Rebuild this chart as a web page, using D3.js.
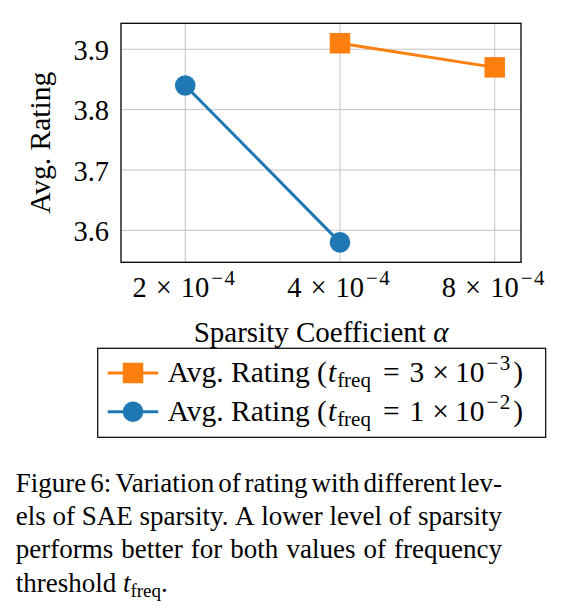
<!DOCTYPE html>
<html><head><meta charset="utf-8">
<script src="https://cdn.jsdelivr.net/npm/d3@7"></script>
<style>html,body{margin:0;padding:0;background:#fff;} svg{display:block;}</style>
</head><body>
<svg id="chart" width="570" height="616"></svg>
<script>
// ---- data ----
const alphaTicks = [2e-4, 4e-4, 8e-4];
const alphaTickMantissas = ["2", "4", "8"];
const alphaTickExponent = "4";
const ratingTicks = [3.6, 3.7, 3.8, 3.9];
const orangeAlpha = [4e-4, 8e-4];
const orangeRating = [3.91, 3.87];
const blueAlpha = [2e-4, 4e-4];
const blueRating = [3.84, 3.58];
const legendMantissas = ["3", "1"];
const legendExponents = ["3", "2"];
const captionLines = [
  "Figure 6: Variation of rating with different lev-",
  "els of SAE sparsity. A lower level of sparsity",
  "performs better for both values of frequency"
];

const ORANGE = "#ff7f0e", BLUE = "#1f77b4";
const FONT = "'Liberation Serif', serif";

function sciLabel(t, mant, exp, fs) {
  t.append("tspan").text(mant);
  t.append("tspan").attr("dx", 9).text("\u00d7");
  t.append("tspan").attr("dx", 9).text("10");
  t.append("tspan").attr("font-size", fs).attr("dy", -12).attr("dx", 2).text("\u2212");
  t.append("tspan").attr("font-size", fs).attr("dx", 1.5).text(exp);
}

function draw() {
const svg = d3.select("#chart");
svg.selectAll("*").remove();

const L = 121, R = 521, T = 23.3, B = 262.3;
const x = d3.scaleLog().domain([1.5e-4, 9e-4]).range([L, R]);
const y = d3.scaleLinear().domain([3.547, 3.943]).range([B, T]);

// grid
const grid = svg.append("g");
grid.selectAll("line.gx").data(alphaTicks).join("line")
  .attr("x1", d => x(d)).attr("x2", d => x(d)).attr("y1", T).attr("y2", B)
  .attr("stroke", "#c4c4c4").attr("stroke-width", 1);
grid.selectAll("line.gy").data(ratingTicks).join("line")
  .attr("y1", d => y(d)).attr("y2", d => y(d)).attr("x1", L).attr("x2", R)
  .attr("stroke", "#c4c4c4").attr("stroke-width", 1);

// y axis
const yAxis = d3.axisLeft(y).tickValues(ratingTicks).tickSize(0).tickPadding(12).tickFormat(d3.format(".1f"));
const gy = svg.append("g").attr("transform", `translate(${L},0)`).call(yAxis)
  .attr("font-family", FONT).attr("font-size", 28.5);
gy.select(".domain").remove();
gy.selectAll("text").attr("fill", "#000").attr("dy", "0.36em");

// x tick labels with superscripts
const gx = svg.append("g").attr("font-family", FONT).attr("font-size", 28.5);
alphaTicks.forEach((a, i) => {
  const t = gx.append("text").attr("x", x(a) - 1.5).attr("y", 296.7)
    .attr("text-anchor", "middle").attr("fill", "#000");
  sciLabel(t, alphaTickMantissas[i], alphaTickExponent, 21);
});

// frame
svg.append("rect").attr("x", L).attr("y", T).attr("width", R - L).attr("height", B - T)
  .attr("fill", "none").attr("stroke", "#000").attr("stroke-width", 1.3);

// lines + markers
const line = d3.line().x(d => x(d[0])).y(d => y(d[1]));
const orangeData = d3.zip(orangeAlpha, orangeRating);
const blueData = d3.zip(blueAlpha, blueRating);
svg.append("path").datum(orangeData).attr("d", line).attr("fill", "none").attr("stroke", ORANGE).attr("stroke-width", 3);
svg.append("path").datum(blueData).attr("d", line).attr("fill", "none").attr("stroke", BLUE).attr("stroke-width", 3);
const SQ = 20.5;
svg.selectAll("rect.sq").data(orangeData).join("rect")
  .attr("x", d => x(d[0]) - SQ / 2).attr("y", d => y(d[1]) - SQ / 2)
  .attr("width", SQ).attr("height", SQ).attr("fill", ORANGE);
svg.selectAll("circle.ci").data(blueData).join("circle")
  .attr("cx", d => x(d[0])).attr("cy", d => y(d[1])).attr("r", 10.3).attr("fill", BLUE);

// axis titles
const xt = svg.append("text").attr("x", (L + R) / 2).attr("y", 341.7).attr("text-anchor", "middle")
  .attr("font-family", FONT).attr("font-size", 29).attr("fill", "#000");
xt.append("tspan").text("Sparsity Coefficient ");
xt.append("tspan").attr("font-style", "italic").text("\u03b1");
svg.append("text").attr("transform", `translate(50,${(T + B) / 2}) rotate(-90)`)
  .attr("text-anchor", "middle").attr("font-family", FONT).attr("font-size", 29.5).attr("fill", "#000")
  .text("Avg. Rating");

// legend
const lg = svg.append("g");
lg.append("rect").attr("x", 97.7).attr("y", 348.3).attr("width", 448).attr("height", 89)
  .attr("fill", "#fff").attr("stroke", "#000").attr("stroke-width", 1.2);
const rowsY = [373, 411.7];
const colors = [ORANGE, BLUE];
rowsY.forEach((ry, i) => {
  lg.append("line").attr("x1", 107.7).attr("x2", 158.3).attr("y1", ry).attr("y2", ry)
    .attr("stroke", colors[i]).attr("stroke-width", 3);
  if (i === 0) lg.append("rect").attr("x", 133 - SQ / 2).attr("y", ry - SQ / 2).attr("width", SQ).attr("height", SQ).attr("fill", ORANGE);
  else lg.append("circle").attr("cx", 133).attr("cy", ry).attr("r", 10.3).attr("fill", BLUE);
  const t = lg.append("text").attr("x", 167.7).attr("y", ry + 9).attr("font-family", FONT)
    .attr("font-size", 29.5).attr("fill", "#000");
  t.append("tspan").text("Avg. Rating (");
  t.append("tspan").attr("font-style", "italic").attr("dx", 1).text("t");
  t.append("tspan").attr("font-size", 21).attr("dy", 5).attr("dx", 1).text("freq");
  t.append("tspan").attr("dy", -5).attr("dx", 12).text("=");
  t.append("tspan").attr("dx", 10).text(legendMantissas[i]);
  t.append("tspan").attr("dx", 8).text("\u00d7");
  t.append("tspan").attr("dx", 6).text("10");
  t.append("tspan").attr("font-size", 21).attr("dy", -12).attr("dx", 2).text("\u2212");
  t.append("tspan").attr("font-size", 21).attr("dx", 1.5).text(legendExponents[i]);
  t.append("tspan").attr("dy", 12).attr("dx", 3).text(")");
});

// caption (justified)
const CL = 15.7, CR = 502, CFS = 27;
const cap = svg.append("g").attr("font-family", FONT).attr("font-size", CFS).attr("fill", "#000");
const baselines = [491.7, 525, 558.3, 591.7];
captionLines.forEach((ln, i) => {
  const words = ln.split(" ");
  const nodes = words.map(w => cap.append("text").attr("y", baselines[i]).text(w));
  const widths = nodes.map(n => n.node().getComputedTextLength());
  const total = d3.sum(widths);
  const gap = Math.max(3, (CR - CL - total) / (words.length - 1));
  let cx = CL;
  nodes.forEach((n, k) => { n.attr("x", cx); cx += widths[k] + gap; });
});
const last = cap.append("text").attr("x", CL).attr("y", baselines[3]);
last.append("tspan").text("threshold ");
last.append("tspan").attr("font-style", "italic").text("t");
last.append("tspan").attr("font-size", 19).attr("dy", 5).text("freq");
last.append("tspan").attr("dy", -5).text(".");
}

draw();
if (document.fonts && document.fonts.ready) {
  document.fonts.ready.then(draw, function () {});
}
</script>
</body></html>
